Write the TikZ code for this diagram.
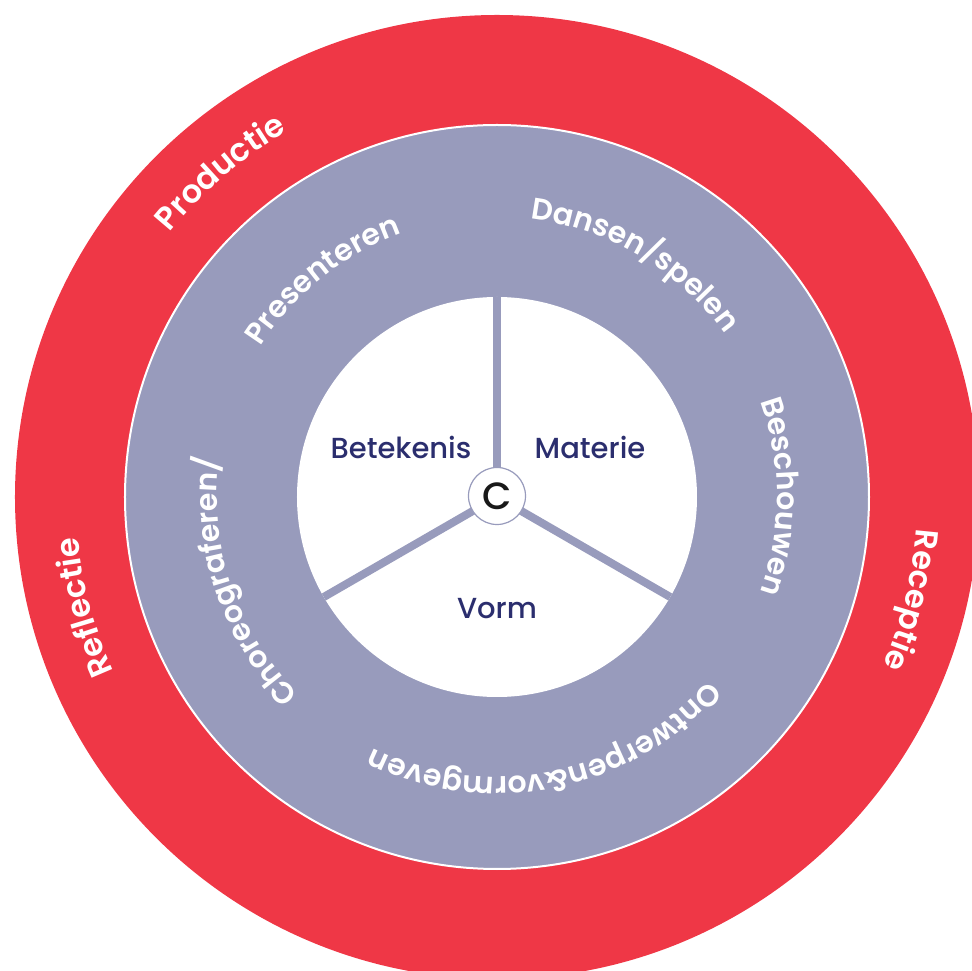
\documentclass[tikz,border=0pt]{standalone}
\usepackage{fontspec}
\setmainfont{Poppins}
\newfontfamily\poppinsSemi{Poppins SemiBold}
\newfontfamily\poppinsMed{Poppins Medium}
\usetikzlibrary{decorations.text}
\definecolor{ringred}{HTML}{EF3746}
\definecolor{ringpurple}{HTML}{989BBC}
\definecolor{navytext}{HTML}{2B2E6E}
\newcommand\ringRfont{\poppinsSemi\fontsize{32}{32}\selectfont}
\newcommand\ringPfont{\poppinsSemi\fontsize{30}{30}\selectfont}
\tikzset{
  arctext/.style={decorate, decoration={text along path, text align=center, text color=white, text={#1}}},
  spoke/.style={ringpurple, line width=8pt},
  corelabel/.style={text=navytext, font=\poppinsMed\fontsize{29}{29}\selectfont, inner sep=0pt},
}
\begin{document}
\begin{tikzpicture}[x=1pt,y=1pt]
\useasboundingbox (-497,-474) rectangle (475,497);
\clip (-497,-474) rectangle (475,497);
% rings
\fill[ringred] (0,0) circle[radius=482pt];
\draw[white, line width=2pt, fill=ringpurple] (0,0) circle[radius=372pt];
\fill[white] (0,0) circle[radius=200pt];
% spokes
\coordinate (O) at (0,0);
\coordinate (s1) at (90:200pt);
\coordinate (s2) at (210:200pt);
\coordinate (s3) at (-30:200pt);
\draw[spoke] (O) -- (s1);
\draw[spoke] (O) -- (s2);
\draw[spoke] (O) -- (s3);
\node[circle, draw=ringpurple, line width=1.2pt, fill=white, minimum size=57pt, inner sep=0pt,
      font=\poppinsMed\fontsize{38}{38}\selectfont, text=black!90] (C) at (0,1) {C};
% core labels
\node[corelabel] (bet) at (-96,50) {Betekenis};
\node[corelabel] (mat) at (93,50) {Materie};
\node[corelabel] (vorm) at (0,-112) {Vorm};
% red ring labels
\path[arctext={|\ringRfont|Productie}] (180.4:421pt) arc[start angle=180.4, end angle=80.4, radius=421pt];
\path[arctext={|\ringRfont|Receptie}] (36:421pt) arc[start angle=36, end angle=-64, radius=421pt];
\path[arctext={|\ringRfont|Reflectie}] (245:421pt) arc[start angle=245, end angle=145, radius=421pt];
% purple ring labels
\path[arctext={|\ringPfont|Presenteren}] (198.7:280pt) arc[start angle=198.7, end angle=58.7, radius=280pt];
\path[arctext={|\ringPfont|Dansen/spelen}] (129.3:280pt) arc[start angle=129.3, end angle=-10.7, radius=280pt];
\path[arctext={|\ringPfont|Beschouwen}] (70:280pt) arc[start angle=70, end angle=-70, radius=280pt];
\path[arctext={|\ringPfont|Choreograferen/}] (278.5:280pt) arc[start angle=278.5, end angle=118.5, radius=280pt];
\path[arctext={|\ringPfont|Ontwerpen{\&}vormgeven}] (1.4:280pt) arc[start angle=1.4, end angle=-158.6, radius=280pt];
\end{tikzpicture}
\end{document}
